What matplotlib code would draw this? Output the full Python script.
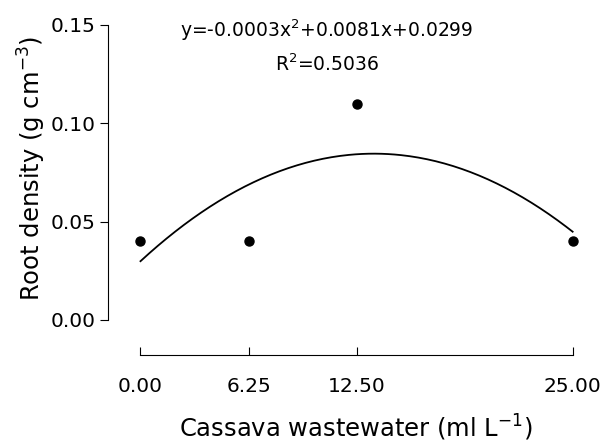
import matplotlib.pyplot as plt
import numpy as np

# observed means
dose = [0, 6.25, 12.5, 25]
root_density = [0.04, 0.04, 0.11, 0.04]
# fitted quadratic, as printed on the chart
coef = [-0.0003, 0.0081, 0.0299]
r2 = 0.5036

xticks = [0, 6.25, 12.5, 25]
xlabels = ['0.00', '6.25', '12.50', '25.00']
yticks = [0, 0.05, 0.10, 0.15]

plt.rcParams['font.family'] = 'DejaVu Sans'
fig = plt.figure(figsize=(6.03, 4.48), dpi=100)
ax = fig.add_axes([108/603, 1-355/448, (583-108)/603, (355-25)/448])

x_fit = np.linspace(0, 25, 200)
ax.plot(x_fit, np.polyval(coef, x_fit), color='black', lw=1.3)
ax.plot(dose, root_density, 'o', color='black', ms=6.5)

ax.set_xlim(-1.88, 25.6)
ax.set_ylim(-0.0178, 0.15)
ax.spines['top'].set_visible(False)
ax.spines['right'].set_visible(False)
ax.spines['left'].set_bounds(0, 0.15)
ax.spines['bottom'].set_bounds(0, 25)
ax.set_xticks(xticks)
ax.set_xticklabels(xlabels)
ax.set_yticks(yticks)
ax.set_yticklabels(['%.2f' % v for v in yticks])
ax.tick_params(axis='x', direction='in', length=6, labelsize=14.5, pad=16)
ax.tick_params(axis='y', direction='out', length=6, labelsize=14.5, pad=3)

ax.set_xlabel('Cassava wastewater (ml L$^{-1}$)', fontsize=17.5, labelpad=12)
ax.set_ylabel('Root density (g cm$^{-3}$)', fontsize=17.5, labelpad=2)
ax.xaxis.label.set_x(0.522)
ax.yaxis.label.set_y(0.567)

eq = 'y=%.4fx$^2$+%.4fx+%.4f' % tuple(coef)
ax.text(0.461, 0.985, eq, transform=ax.transAxes, ha='center', va='center', fontsize=13.5)
ax.text(0.461, 0.88, 'R$^2$=%.4f' % r2, transform=ax.transAxes, ha='center', va='center', fontsize=13.5)

fig.savefig('out.png', dpi=100)
